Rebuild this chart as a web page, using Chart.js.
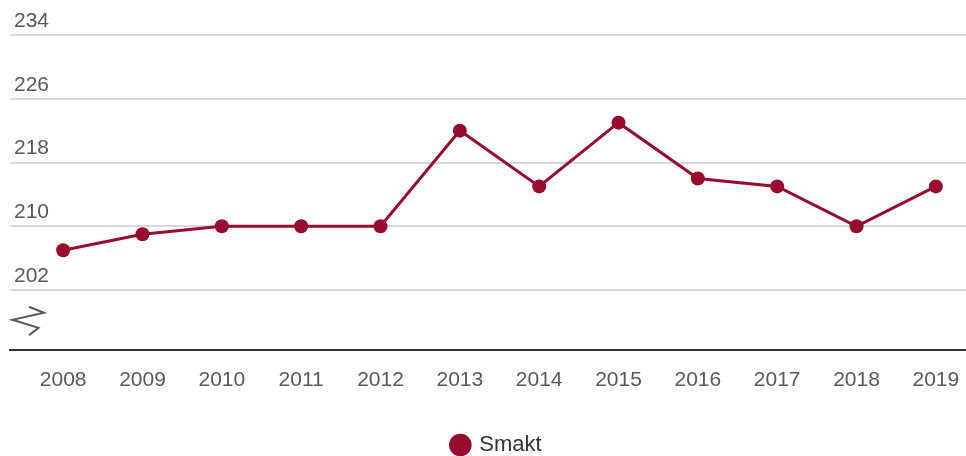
<!DOCTYPE html>
<html lang="no">
<head>
    <meta charset="UTF-8">
    <title>Smakt</title>
    <script src="https://cdn.jsdelivr.net/npm/chart.js"></script>
    <style>
        html, body {
            margin: 0;
            padding: 0;
            background: #ffffff;
            overflow: hidden;
        }
        #chartContainer {
            position: relative;
            width: 966px;
            height: 456px;
        }
    </style>
</head>
<body>

<div id="chartContainer">
    <canvas id="smaktChart"></canvas>
</div>

<script>
    // Data
    const years = ['2008', '2009', '2010', '2011', '2012', '2013', '2014', '2015', '2016', '2017', '2018', '2019'];
    const smakt = [207, 209, 210, 210, 210, 222, 215, 223, 216, 215, 210, 215];
    const yTicks = [202, 210, 218, 226, 234];
    const seriesName = 'Smakt';

    const lineColor = '#9a0b30';
    const fontFamily = "'Liberation Sans', Arial, sans-serif";

    // Small zigzag "axis break" mark at the bottom left of the plot
    const axisBreak = {
        id: 'axisBreak',
        afterDraw(chart) {
            const { ctx, chartArea } = chart;
            const l = chartArea.left, b = chartArea.bottom;
            const pts = [[19, -43], [34, -37], [2.5, -30], [28.5, -22], [19, -14.5]];
            ctx.save();
            ctx.strokeStyle = '#5a5a5a';
            ctx.lineWidth = 2;
            ctx.lineJoin = 'miter';
            ctx.beginPath();
            pts.forEach((p, i) => {
                if (i === 0) ctx.moveTo(l + p[0], b + p[1]);
                else ctx.lineTo(l + p[0], b + p[1]);
            });
            ctx.stroke();
            ctx.restore();
        }
    };

    // the legend in the original sits a little right of centre
    const legendNudge = {
        id: 'legendNudge',
        afterLayout(chart) {
            if (chart.legend) {
                chart.legend.left += 13;
                chart.legend.right += 13;
            }
        }
    };

    const ctx = document.getElementById('smaktChart').getContext('2d');
    const smaktChart = new Chart(ctx, {
        type: 'line',
        data: {
            datasets: [{
                label: seriesName,
                data: years.map((y, i) => ({ x: Number(y), y: smakt[i] })),
                borderColor: lineColor,
                backgroundColor: lineColor,
                borderWidth: 3,
                pointRadius: 7,
                pointBorderWidth: 0,
                pointBackgroundColor: lineColor,
                pointStyle: 'circle',
                tension: 0,
                fill: false
            }]
        },
        options: {
            responsive: true,
            maintainAspectRatio: false,
            animation: false,
            layout: {
                autoPadding: false,
                padding: { top: 35, left: 2, right: 0, bottom: -10 }
            },
            plugins: {
                tooltip: { enabled: false },
                legend: {
                    position: 'bottom',
                    labels: {
                        usePointStyle: true,
                        boxWidth: 16,
                        boxHeight: 16,
                        padding: 41,
                        color: '#333333',
                        font: { family: fontFamily, size: 22 }
                    }
                }
            },
            scales: {
                x: {
                    type: 'linear',
                    min: 2007.33,
                    max: 2019.38,
                    afterBuildTicks(scale) {
                        scale.ticks = years.map(y => ({ value: Number(y) }));
                    },
                    // invisible tick marks push the labels down without widening the side padding
                    grid: {
                        display: true,
                        drawOnChartArea: false,
                        drawTicks: true,
                        tickLength: 18,
                        color: 'rgba(0,0,0,0)'
                    },
                    border: { display: true, color: '#333333', width: 2 },
                    ticks: {
                        padding: 0,
                        color: '#595959',
                        font: { family: fontFamily, size: 21 },
                        callback: (v) => String(v)
                    }
                },
                y: {
                    min: 194.5,
                    max: 234,
                    afterBuildTicks(scale) {
                        scale.ticks = yTicks.map(v => ({ value: v }));
                    },
                    border: { display: false },
                    grid: {
                        color: '#d9d9d9',
                        lineWidth: 2,
                        drawTicks: false
                    },
                    ticks: {
                        mirror: true,
                        padding: 4,
                        labelOffset: -14,
                        color: '#595959',
                        font: { family: fontFamily, size: 21 }
                    }
                }
            }
        },
        plugins: [axisBreak, legendNudge]
    });
</script>

</body>
</html>
